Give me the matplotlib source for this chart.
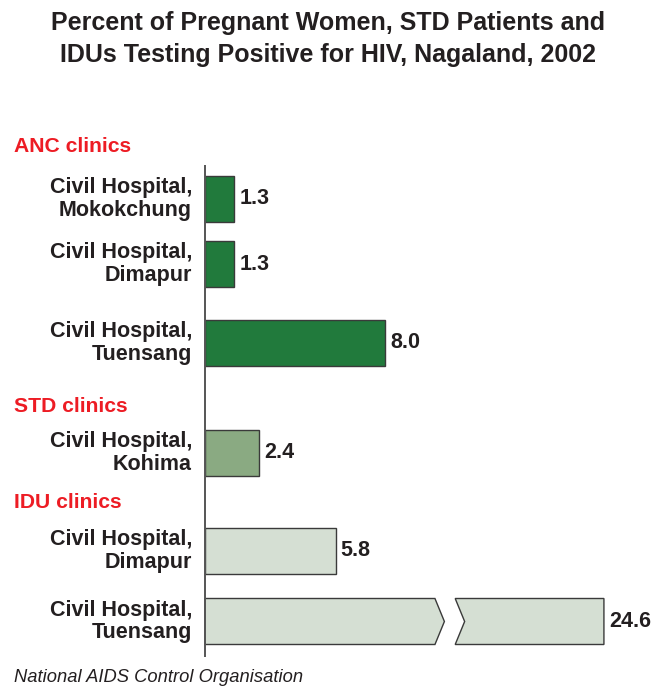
import matplotlib
matplotlib.use("Agg")
import matplotlib.pyplot as plt
from matplotlib.patches import Polygon, Rectangle

plt.rcParams['font.family'] = ['Liberation Sans', 'DejaVu Sans']

# ---- data ----
groups = ["ANC clinics", "STD clinics", "IDU clinics"]
labels = [
    "Civil Hospital,\nMokokchung",
    "Civil Hospital,\nDimapur",
    "Civil Hospital,\nTuensang",
    "Civil Hospital,\nKohima",
    "Civil Hospital,\nDimapur",
    "Civil Hospital,\nTuensang",
]
values = [1.3, 1.3, 8.0, 2.4, 5.8, 24.6]
bar_group = [0, 0, 0, 1, 2, 2]

# ---- layout / style ----
W, H, DPI = 657, 689, 100
PX_PER_UNIT = 22.5
AXIS_X_PX = 205
y_centers = [199, 264, 343, 453, 551, 621.5]   # pixel rows of bar centers
header_y = [145, 405, 501]
bar_h = 46
group_colors = ["#217a3c", "#8aaa82", "#d5dfd3"]
edge = "#3a3a3a"
text_col = "#231f20"
red = "#ed1c24"
# broken-bar layout (in value units)
brk_at, brk_gap, brk_depth, brk_show_end = 10.22, 0.9, 0.42, 17.73

fig = plt.figure(figsize=(W / DPI, H / DPI), dpi=DPI)
ax = fig.add_axes([0, 0, 1, 1])
ax.set_xlim(-AXIS_X_PX / PX_PER_UNIT, (W - AXIS_X_PX) / PX_PER_UNIT)
ax.set_ylim(H, 0)
ax.axis("off")

def px(x):
    return (x - AXIS_X_PX) / PX_PER_UNIT

# title
ax.text(px(328), 39, "Percent of Pregnant Women, STD Patients and\nIDUs Testing Positive for HIV, Nagaland, 2002",
        ha="center", va="center", fontsize=18, fontweight="bold", color=text_col, linespacing=1.4)

# headers
for g, yh in zip(groups, header_y):
    ax.text(px(14), yh + 1, g, ha="left", va="center", fontsize=15.2, fontweight="bold", color=red)

# axis line
ax.plot([0, 0], [165, 657], color="#555555", lw=1.4, solid_capstyle="butt", zorder=3)

for lab, v, g, yc in zip(labels, values, bar_group, y_centers):
    col = group_colors[g]
    y0, y1 = yc - bar_h / 2, yc + bar_h / 2
    if v > brk_show_end:
        left = [(0, y0), (brk_at, y0), (brk_at + brk_depth, yc), (brk_at, y1), (0, y1)]
        x2 = brk_at + brk_gap
        right = [(x2, y0), (brk_show_end, y0), (brk_show_end, y1), (x2, y1), (x2 + brk_depth, yc)]
        for poly in (left, right):
            ax.add_patch(Polygon(poly, closed=True, facecolor=col, edgecolor=edge, lw=1.0, zorder=2))
        vend = brk_show_end
    else:
        ax.add_patch(Rectangle((0, y0), v, bar_h, facecolor=col, edgecolor=edge, lw=1.0, zorder=2))
        vend = v
    ax.text(vend + 5 / PX_PER_UNIT, yc, f"{v:.1f}", ha="left", va="center",
            fontsize=15.5, fontweight="bold", color=text_col)
    ax.text(px(192), yc, lab, ha="right", va="center", fontsize=15.5, fontweight="bold",
            color=text_col, linespacing=1.1)

ax.text(px(14), 678, "National AIDS Control Organisation", ha="left", va="center",
        fontsize=13.2, fontstyle="italic", color=text_col)

fig.savefig("out.png", dpi=DPI)
